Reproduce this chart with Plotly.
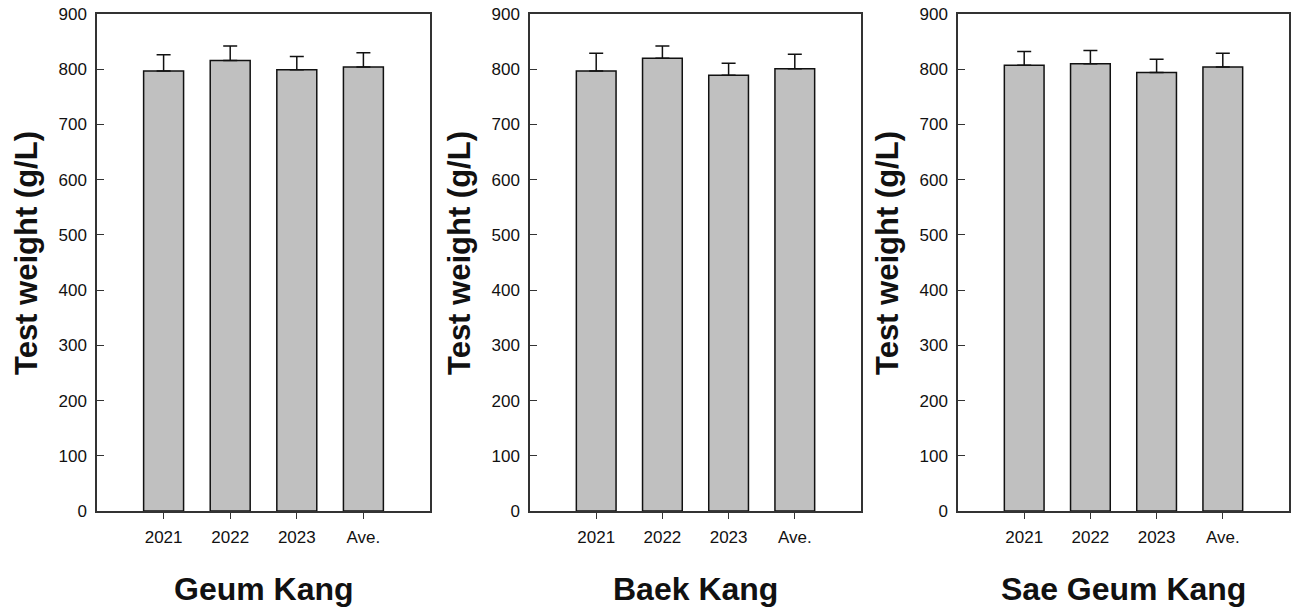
import plotly.graph_objects as go

categories = ["2021", "2022", "2023", "Ave."]
panel_names = ["Geum Kang", "Baek Kang", "Sae Geum Kang"]
geum_vals = [797, 816, 799, 804]
geum_err = [29, 26, 24, 26]
baek_vals = [797, 820, 789, 801]
baek_err = [32, 22, 22, 26]
sae_vals = [807, 810, 794, 804]
sae_err = [25, 24, 24, 25]
y_ticks = [0, 100, 200, 300, 400, 500, 600, 700, 800, 900]

W, H = 1292, 609
panels = [(geum_vals, geum_err), (baek_vals, baek_err), (sae_vals, sae_err)]
xdoms = [(97 / W, 430 / W), (530 / W, 861 / W), (958 / W, 1289 / W)]
ydom = (1 - 511 / H, 1 - 14 / H)
FONT = "Arial, Liberation Sans, sans-serif"

fig = go.Figure()
for i, (vals, errs) in enumerate(panels):
    sfx = "" if i == 0 else str(i + 1)
    fig.add_trace(go.Bar(
        x=categories, y=vals,
        xaxis="x" + sfx, yaxis="y" + sfx,
        width=0.6,
        marker=dict(color="#c0c0c0", line=dict(color="#111111", width=1.5)),
        error_y=dict(type="data", array=errs, symmetric=False, arrayminus=[0] * len(errs),
                     color="#111111", thickness=1.5, width=7),
        showlegend=False,
    ))
    fig.update_layout(**{
        "xaxis" + sfx: dict(
            domain=list(xdoms[i]), anchor="y" + sfx,
            range=[-1, 4], type="category", automargin=False,
            showline=True, mirror=True, linecolor="#333333", linewidth=1.5,
            ticks="outside", ticklen=6, tickcolor="#333333", tickwidth=1.2,
            ticklabelstandoff=4,
            tickfont=dict(family=FONT, size=17, color="#111111"),
            showgrid=False, zeroline=False,
        ),
        "yaxis" + sfx: dict(
            domain=list(ydom), anchor="x" + sfx,
            range=[0, 900], tickvals=y_ticks, automargin=False,
            showline=True, mirror=True, linecolor="#333333", linewidth=1.5,
            ticks="inside", ticklen=7, tickcolor="#333333", tickwidth=1.2,
            ticklabelstandoff=5,
            tickfont=dict(family=FONT, size=17, color="#111111"),
            showgrid=False, zeroline=False,
        ),
    })
    fig.add_annotation(
        x=(xdoms[i][0] + xdoms[i][1]) / 2, xref="paper", y=1 - 589 / H, yref="paper",
        text="<b>" + panel_names[i] + "</b>", showarrow=False,
        font=dict(family=FONT, size=32, color="#111111"),
        xanchor="center", yanchor="middle",
    )
    fig.add_annotation(
        x=xdoms[i][0] - 71 / W, xref="paper", y=1 - 253 / H, yref="paper",
        text="<b>Test weight (g/L)</b>", showarrow=False, textangle=-90,
        font=dict(family=FONT, size=31, color="#111111"),
        xanchor="center", yanchor="middle",
    )

fig.update_layout(
    width=W, height=H,
    margin=dict(l=0, r=0, t=0, b=0, pad=0),
    paper_bgcolor="white", plot_bgcolor="white",
    bargap=0.4,
)
fig.write_html("out.html")
